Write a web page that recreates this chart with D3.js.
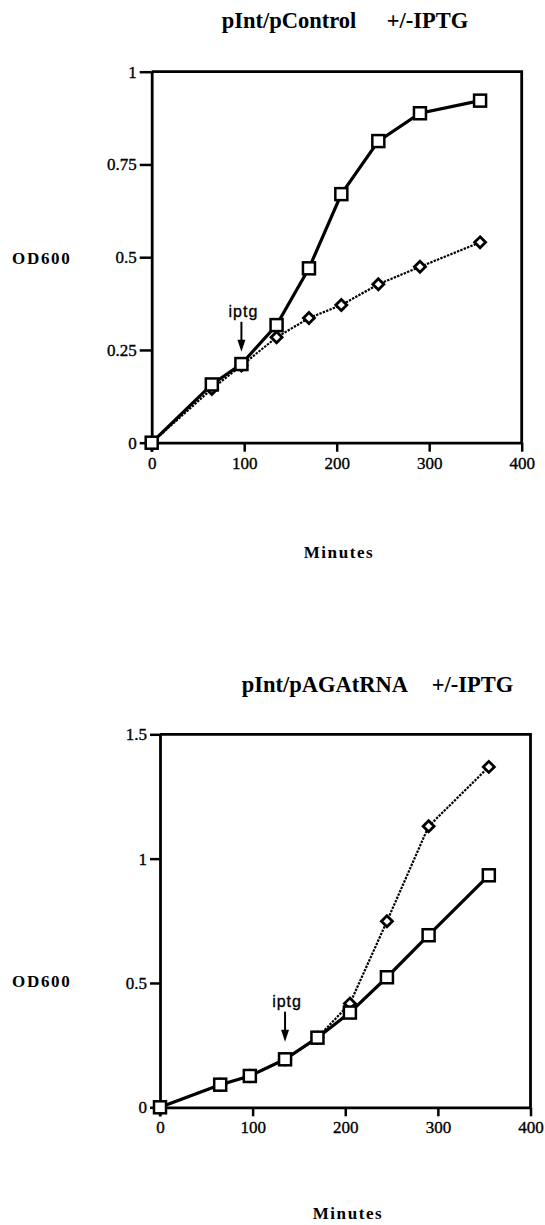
<!DOCTYPE html>
<html>
<head>
<meta charset="utf-8">
<script src="https://cdn.jsdelivr.net/npm/d3@7"></script>
<style>
	body { margin: 0; background: #fff; }
	svg { display: block; }
</style>
</head>
<body>
<script>
// Sampling times (minutes), shared by both panels
let times = [0, 65, 97, 135, 170, 205, 245, 290, 355];

// Top panel: pInt/pControl
let controlSquares  = [0, 0.157, 0.212, 0.317, 0.47, 0.67, 0.813, 0.888, 0.922];
let controlDiamonds = [0, 0.145, 0.208, 0.284, 0.336, 0.371, 0.427, 0.474, 0.54];

// Bottom panel: pInt/pAGAtRNA
let agaSquares  = [0, 0.091, 0.126, 0.193, 0.28, 0.381, 0.523, 0.692, 0.933];
let agaDiamonds = [0, 0.091, 0.126, 0.193, 0.28, 0.417, 0.748, 1.13, 1.369];

// Tick labels
let xTicks = [0, 100, 200, 300, 400];
let yTicksControl = [0, 0.25, 0.5, 0.75, 1];
let yTicksAga = [0, 0.5, 1, 1.5];

// Titles
let titles = [["pInt/pControl", "+/-IPTG"], ["pInt/pAGAtRNA", "+/-IPTG"]];

// IPTG addition: time and level of the arrow tip
let iptgTime = [97, 135];
let iptgLevel = [0.245, 0.264];

let serif = "'Liberation Serif', 'Times New Roman', serif";
let sans = "'Liberation Sans', Arial, sans-serif";

let svg = d3.select("body")
			.append("svg")
			.attr("width", 545)
			.attr("height", 1225);

/**
 * Draws one growth-curve panel
 */
function drawPanel(p) {
	let x = d3.scaleLinear().domain([0, 400]).range([p.left, p.right]);
	let y = d3.scaleLinear().domain([0, p.yMax]).range([p.bottom, p.top]);
	let g = svg.append("g");

	// Frame: top and right border
	g.append("path")
	 .attr("d", "M" + x(0) + "," + y(p.yMax) + "H" + x(400) + "V" + y(0))
	 .attr("fill", "none")
	 .attr("stroke", "#000")
	 .attr("stroke-width", 2.8);

	// Axes
	let ax = g.append("g")
			  .attr("transform", "translate(0," + y(0) + ")")
			  .call(d3.axisBottom(x).tickValues(xTicks).tickSize(9).tickSizeOuter(0).tickPadding(5));
	let ay = g.append("g")
			  .attr("transform", "translate(" + x(0) + ",0)")
			  .call(d3.axisLeft(y).tickValues(p.yTicks).tickFormat(d3.format("")).tickSize(p.yTickSize).tickSizeOuter(0).tickPadding(3));
	[ax, ay].forEach(function(a) {
		a.attr("font-family", serif).attr("font-size", 17);
		a.selectAll(".tick text").attr("stroke", "#000").attr("stroke-width", 0.35);
		a.select(".domain").attr("stroke-width", 2.8);
		a.selectAll(".tick line").attr("stroke-width", 2.5);
	});
	// y axis runs down to the bottom of the x ticks
	g.append("line")
	 .attr("x1", x(0)).attr("x2", x(0))
	 .attr("y1", y(0)).attr("y2", y(0) + 9)
	 .attr("stroke", "#000").attr("stroke-width", 2.5);

	let pts = function(vals) {
		return times.map(function(t, i) { return [t, vals[i]]; });
	};
	let line = d3.line().x(function(d) { return x(d[0]); }).y(function(d) { return y(d[1]); });

	// Series lines
	g.append("path")
	 .attr("d", line(pts(p.diamonds)))
	 .attr("fill", "none")
	 .attr("stroke", "#000")
	 .attr("stroke-width", 2.2)
	 .attr("stroke-dasharray", "2.4,1.2");
	g.append("path")
	 .attr("d", line(pts(p.squares)))
	 .attr("fill", "none")
	 .attr("stroke", "#000")
	 .attr("stroke-width", 3.2);

	// Diamond markers
	g.selectAll(".dia")
	 .data(pts(p.diamonds))
	 .enter()
	 .append("path")
	 .attr("d", "M0,-5.5L5.5,0L0,5.5L-5.5,0Z")
	 .attr("transform", function(d) { return "translate(" + x(d[0]) + "," + y(d[1]) + ")"; })
	 .attr("fill", "#fff")
	 .attr("stroke", "#000")
	 .attr("stroke-width", 2.8);

	// Square markers
	g.selectAll(".sq")
	 .data(pts(p.squares))
	 .enter()
	 .append("rect")
	 .attr("x", function(d) { return x(d[0]) - 6; })
	 .attr("y", function(d) { return y(d[1]) - 6; })
	 .attr("width", 12)
	 .attr("height", 12)
	 .attr("fill", "#fff")
	 .attr("stroke", "#000")
	 .attr("stroke-width", 2.5);

	// IPTG arrow
	let ix = x(p.iptgTime), iy = y(p.iptgLevel);
	g.append("line")
	 .attr("x1", ix).attr("x2", ix)
	 .attr("y1", iy - 30).attr("y2", iy - 10)
	 .attr("stroke", "#000").attr("stroke-width", 2);
	g.append("path")
	 .attr("d", "M" + (ix - 4) + "," + (iy - 12) + "L" + (ix + 4) + "," + (iy - 12) + "L" + ix + "," + iy + "Z")
	 .attr("fill", "#000");
	g.append("text")
	 .attr("x", ix + 2)
	 .attr("y", iy - 35)
	 .attr("text-anchor", "middle")
	 .attr("font-family", sans)
	 .attr("font-size", 16)
	 .attr("letter-spacing", 1)
	 .attr("stroke", "#000")
	 .attr("stroke-width", 0.3)
	 .text("iptg");

	// Title
	g.append("text")
	 .attr("x", p.titleX[0]).attr("y", p.titleY)
	 .attr("font-family", serif).attr("font-weight", "bold").attr("font-size", 22.5)
	 .text(p.title[0]);
	g.append("text")
	 .attr("x", p.titleX[1]).attr("y", p.titleY)
	 .attr("font-family", serif).attr("font-weight", "bold").attr("font-size", 22.5)
	 .text(p.title[1]);

	// Axis titles
	g.append("text")
	 .attr("x", 12).attr("y", p.odY)
	 .attr("font-family", serif).attr("font-weight", "bold").attr("font-size", 17)
	 .attr("letter-spacing", 1.7)
	 .text("OD600");
	g.append("text")
	 .attr("x", p.minX).attr("y", p.minY)
	 .attr("text-anchor", "middle")
	 .attr("font-family", serif).attr("font-weight", "bold").attr("font-size", 17)
	 .attr("letter-spacing", 1.6)
	 .text("Minutes");
}

drawPanel({
	left: 151.7, right: 521.7, top: 71.7, bottom: 442.7,
	yMax: 1, yTicks: yTicksControl, yTickSize: 12,
	squares: controlSquares, diamonds: controlDiamonds,
	iptgTime: iptgTime[0], iptgLevel: iptgLevel[0],
	title: titles[0], titleX: [221.7, 386.7], titleY: 28,
	odY: 264, minX: 339, minY: 558
});

drawPanel({
	left: 160, right: 530.5, top: 734.3, bottom: 1107.3,
	yMax: 1.5, yTicks: yTicksAga, yTickSize: 10,
	squares: agaSquares, diamonds: agaDiamonds,
	iptgTime: iptgTime[1], iptgLevel: iptgLevel[1],
	title: titles[1], titleX: [241.7, 431.7], titleY: 692,
	odY: 987, minX: 348, minY: 1219
});
</script>
</body>
</html>
